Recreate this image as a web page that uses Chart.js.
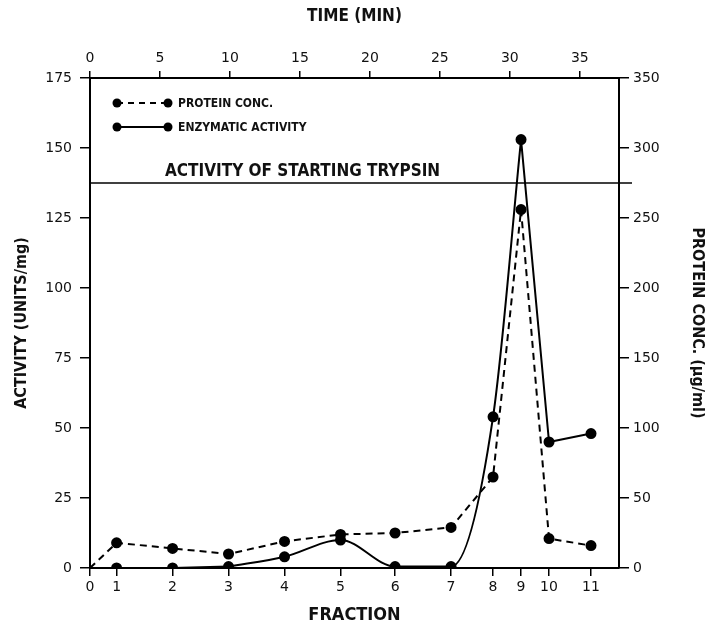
<!DOCTYPE html>
<html>
<head>
<meta charset="utf-8">
<script src="https://cdn.jsdelivr.net/npm/chart.js@4.4.1/dist/chart.umd.min.js"></script>
<style>
  html, body { margin: 0; padding: 0; background: #fff; }
</style>
</head>
<body>
<canvas id="chart" width="715" height="636"></canvas>
<script>
// fraction numbers and where each one sits on the time scale (min)
const fractions = [0, 1, 2, 3, 4, 5, 6, 7, 8, 9, 10, 11];
const fractionTimes = [0, 1.9, 5.9, 9.9, 13.9, 17.9, 21.8, 25.8, 28.8, 30.8, 32.8, 35.8];
const timeTicks = [0, 5, 10, 15, 20, 25, 30, 35];
const activityTicks = [0, 25, 50, 75, 100, 125, 150, 175];
const proteinTicks = [0, 50, 100, 150, 200, 250, 300, 350];

// enzymatic activity (units/mg), protein conc. (ug/ml)
const activity = [null, 0, 0, 0.5, 4, 10, 0.5, 0.5, 54, 153, 45, 48];
const protein = [0, 18, 14, 10, 19, 24, 25, 29, 65, 256, 21, 16];
const startingTrypsin = 137.5;

// the smooth part of the activity trace (fraction 3 to 9)
const curveFrom = 3, curveTo = 9;

const boldFont = "'Liberation Sans Narrow', 'DejaVu Sans Condensed', 'Roboto Condensed', 'DejaVu Sans', sans-serif";
const tickFont = { family: "'DejaVu Sans', sans-serif", size: 14 };
const ink = '#111';

const pts = arr => fractionTimes.map((t, i) => ({ x: t, y: arr[i] }));

// legend + starting trypsin reference line
const annotations = {
  id: 'annotations',
  afterDatasetsDraw(chart) {
    const { ctx, chartArea: a, scales } = chart;
    ctx.save();
    ctx.strokeStyle = '#000';
    ctx.fillStyle = ink;

    // starting trypsin line
    const ty = scales.y.getPixelForValue(startingTrypsin);
    ctx.lineWidth = 1.5;
    ctx.beginPath();
    ctx.moveTo(a.left, ty);
    ctx.lineTo(a.right + 13, ty);
    ctx.stroke();
    ctx.font = "bold 17px " + boldFont;
    ctx.textBaseline = 'alphabetic';
    ctx.fillText('ACTIVITY OF STARTING TRYPSIN', a.left + 75, ty - 7);

    // legend
    const rows = [
      { label: 'PROTEIN CONC.', dash: [6, 5], y: a.top + 25 },
      { label: 'ENZYMATIC ACTIVITY', dash: [], y: a.top + 49 }
    ];
    ctx.font = "bold 12px " + boldFont;
    ctx.textBaseline = 'middle';
    rows.forEach(r => {
      const x0 = a.left + 27, x1 = a.left + 78;
      ctx.lineWidth = 2;
      ctx.setLineDash(r.dash);
      ctx.beginPath();
      ctx.moveTo(x0, r.y);
      ctx.lineTo(x1, r.y);
      ctx.stroke();
      ctx.setLineDash([]);
      [x0, x1].forEach(x => {
        ctx.beginPath();
        ctx.arc(x, r.y, 4.5, 0, Math.PI * 2);
        ctx.fillStyle = '#000';
        ctx.fill();
      });
      ctx.fillStyle = ink;
      ctx.fillText(r.label, a.left + 88, r.y + 1);
    });
    ctx.restore();
  }
};

const axisTitle = (text, padding, size) => ({
  display: true, text, color: ink, padding,
  font: { family: boldFont, size: size || 18, weight: 'bold' }
});

new Chart(document.getElementById('chart'), {
  type: 'line',
  data: {
    datasets: [
      {
        label: 'PROTEIN CONC.',
        data: pts(protein),
        yAxisID: 'y2',
        borderColor: '#000',
        backgroundColor: '#000',
        borderWidth: 2,
        borderDash: [7, 5],
        pointRadius: ctx => ctx.dataIndex === 0 ? 0 : 4.5,
        tension: 0
      },
      {
        label: 'ENZYMATIC ACTIVITY',
        data: pts(activity),
        yAxisID: 'y',
        borderColor: '#000',
        backgroundColor: '#000',
        borderWidth: 2,
        pointRadius: 4.5,
        tension: 0,
        segment: {
          borderColor: s => (s.p0DataIndex >= curveFrom && s.p1DataIndex <= curveTo) ? 'rgba(0,0,0,0)' : '#000'
        }
      },
      {
        label: 'activity curve',
        data: pts(activity).slice(curveFrom, curveTo + 1),
        yAxisID: 'y',
        borderColor: '#000',
        borderWidth: 2,
        pointRadius: 0,
        cubicInterpolationMode: 'monotone'
      }
    ]
  },
  options: {
    responsive: false,
    animation: false,
    layout: { padding: 0 },
    plugins: { legend: { display: false }, tooltip: { enabled: false } },
    scales: {
      x: {
        type: 'linear', position: 'bottom', min: 0, max: 37.8,
        afterBuildTicks: s => { s.ticks = fractionTimes.map(v => ({ value: v })); },
        afterFit: s => { s.height = 68; },
        ticks: { callback: (v, i) => fractions[i], autoSkip: false, maxRotation: 0, color: ink, font: tickFont, padding: 3 },
        grid: { drawOnChartArea: false, tickLength: 8, color: '#000', lineWidth: 1.5 },
        border: { color: '#000', width: 2 },
        title: axisTitle('FRACTION', 10)
      },
      x2: {
        type: 'linear', position: 'top', min: 0, max: 37.8,
        afterBuildTicks: s => { s.ticks = timeTicks.map(v => ({ value: v })); },
        afterFit: s => { s.height = 78; },
        ticks: { autoSkip: false, maxRotation: 0, color: ink, font: tickFont, padding: 4 },
        grid: { drawOnChartArea: false, tickLength: 7, color: '#000', lineWidth: 1.5 },
        border: { color: '#000', width: 2 },
        title: axisTitle('TIME (MIN)', 6, 17)
      },
      y: {
        position: 'left', min: 0, max: 175,
        afterBuildTicks: s => { s.ticks = activityTicks.map(v => ({ value: v })); },
        afterFit: s => { s.width = 90; },
        ticks: { color: ink, font: tickFont, padding: 8 },
        grid: { drawOnChartArea: false, tickLength: 10, color: '#000', lineWidth: 1.5 },
        border: { color: '#000', width: 2 },
        title: axisTitle('ACTIVITY (UNITS/mg)', 12, 16)
      },
      y2: {
        position: 'right', min: 0, max: 350,
        afterBuildTicks: s => { s.ticks = proteinTicks.map(v => ({ value: v })); },
        afterFit: s => { s.width = 96; },
        ticks: { color: ink, font: tickFont, padding: 4 },
        grid: { drawOnChartArea: false, tickLength: 10, color: '#000', lineWidth: 1.5 },
        border: { color: '#000', width: 2 },
        title: axisTitle('PROTEIN CONC. (\u00b5g/ml)', 8, 16)
      }
    }
  },
  plugins: [annotations]
});
</script>
</body>
</html>
